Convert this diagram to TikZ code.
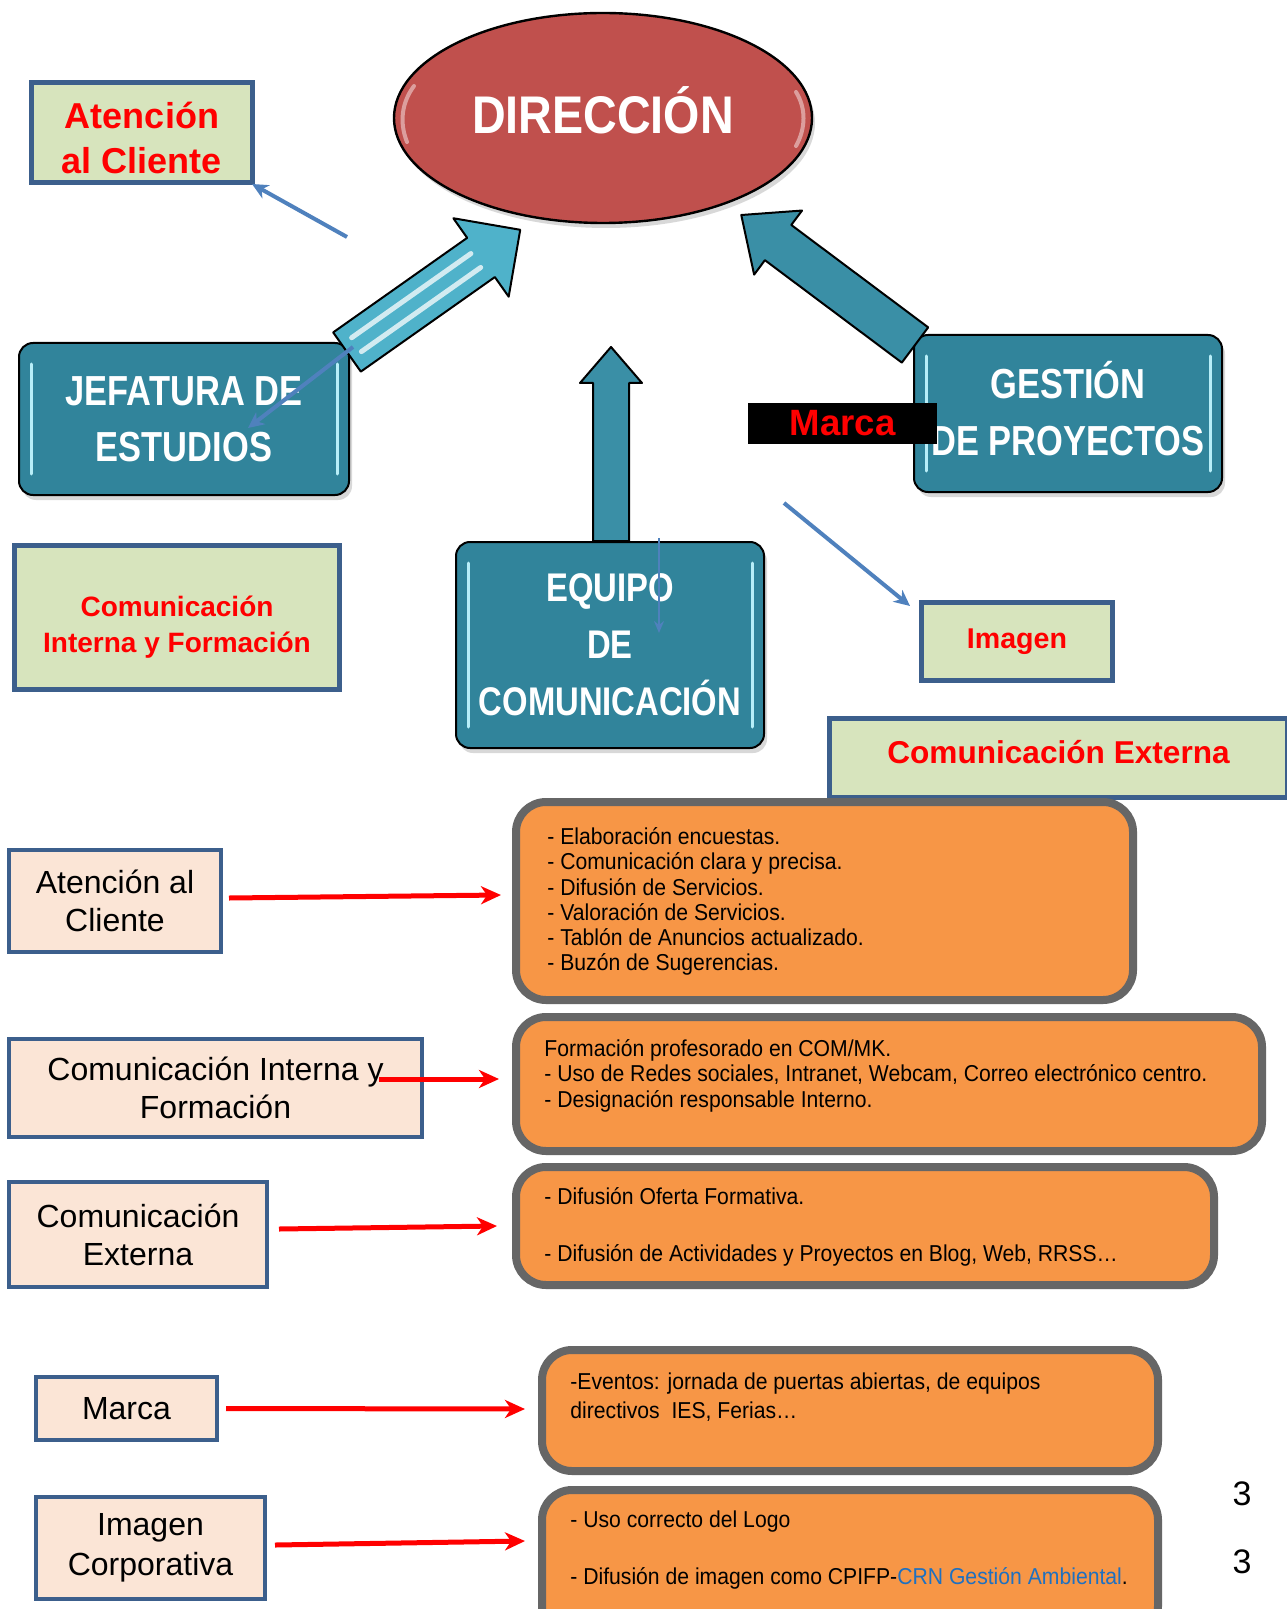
\documentclass[tikz,border=0pt]{standalone}
\usepackage{fontspec}
\setmainfont{Liberation Sans}
\newfontfamily\condf[FakeStretch=0.82]{Liberation Sans}
\newfontfamily\dirf[FakeStretch=0.88]{Liberation Sans}
\newfontfamily\narrf[FakeStretch=0.92]{Liberation Sans}
\usetikzlibrary{shapes.geometric,arrows.meta,calc,shadows}
\definecolor{tealc}{HTML}{31849B}
\definecolor{arrteal}{HTML}{3A8FA6}
\definecolor{arrlight}{HTML}{4FB2CA}
\definecolor{hilite}{HTML}{B8EEF8}
\definecolor{dirred}{HTML}{C0504D}
\definecolor{greenc}{HTML}{D7E4BD}
\definecolor{boxblue}{HTML}{3C5F8C}
\definecolor{peachc}{HTML}{FBE5D6}
\definecolor{orangec}{HTML}{F79646}
\definecolor{grayc}{HTML}{666666}
\definecolor{thinblue}{HTML}{4F81BD}
\definecolor{linkblue}{HTML}{1F70C0}
\newcommand\blkarrow[7]{%
  \begin{scope}[shift={#2}, rotate=#3]
  \draw[#1] (0,-#5) -- ({#4-#7},-#5) -- ({#4-#7},-#6) -- (#4,0) -- ({#4-#7},#6) -- ({#4-#7},#5) -- (0,#5) -- cycle;
  \end{scope}}
\begin{document}
\begin{tikzpicture}[x=0.5pt,y=-0.5pt,
  tealbox/.style={rounded corners=7pt, fill=tealc, draw=black, line width=1pt, text=white,
    align=center, inner sep=0pt,
    drop shadow={shadow xshift=1.5pt, shadow yshift=-2.5pt, opacity=0.3}},
  greenbox/.style={fill=greenc, draw=boxblue, line width=2.5pt, text=red, align=center, inner sep=0pt},
  peachbox/.style={fill=peachc, draw=boxblue, line width=2pt, align=center, inner sep=0pt,
    font=\fontsize{16}{19}\selectfont},
  orangebox/.style={fill=orangec, draw=grayc, line width=4pt, rounded corners=15pt, inner sep=0pt},
  otext/.style={anchor=north west, inner sep=0pt, align=left, font=\narrf\fontsize{11.5}{12.65}\selectfont},
  redarrow/.style={draw=red, line width=2.5pt, -{Stealth[length=10pt,width=9pt,inset=3pt]}},
  bluearrow/.style={draw=thinblue, line width=2pt, -{Stealth[length=8pt,width=7.5pt,inset=2.5pt]}},
  blockarr/.style={fill=arrteal, draw=black, line width=1pt, line join=round},
  hl/.style={draw=hilite, line width=1.5pt, line cap=round},
  pagenum/.style={inner sep=0pt, font=\fontsize{17}{20}\selectfont}]
\useasboundingbox (0,0) rectangle (1286,1609);
\fill[white] (0,0) rectangle (1286,1609);

% ---------- top part ----------
\node[ellipse, fill=dirred, draw=black, line width=1.2pt, minimum width=209pt, minimum height=105pt,
  inner sep=0pt, text=white, font=\dirf\bfseries\fontsize{26.5}{30}\selectfont,
  text height=16pt, text depth=0pt,
  drop shadow={shadow xshift=1.5pt, shadow yshift=-2.5pt, opacity=0.3}] (dir) at (603,118) {DIRECCIÓN};
\draw[white, line width=2pt, opacity=0.45, line cap=round] (407,142) .. controls (399,122) and (402,102) .. (414,86);
\draw[white, line width=2pt, opacity=0.45, line cap=round] (796,92) .. controls (806,108) and (806,128) .. (796,146);

\node[greenbox, minimum width=110.5pt, minimum height=50pt, font=\bfseries\fontsize{18}{22.5}\selectfont]
  (atc) at (142,132.5) {\rule{0pt}{18.5pt}Atención\\al Cliente};

% middle block arrow (behind EQUIPO box)
\blkarrow{blockarr}{(611,541)}{90}{194}{18}{31}{36}

\node[tealbox, minimum width=165pt, minimum height=76pt, font=\condf\bfseries\fontsize{21}{28}\selectfont]
  (jef) at (184,419) {JEFATURA DE\\ESTUDIOS};
\node[tealbox, minimum width=154pt, minimum height=78.5pt, font=\condf\bfseries\fontsize{21}{28.5}\selectfont]
  (ges) at (1068,413.5) {GESTIÓN\\DE PROYECTOS\rule[-5pt]{0pt}{5pt}};
\node[tealbox, minimum width=154pt, minimum height=103pt, font=\condf\bfseries\fontsize{20}{28.5}\selectfont]
  (equ) at (610,645) {EQUIPO\\DE\\COMUNICACIÓN};

% highlights inside teal boxes
\foreach \b in {jef,ges,equ}{
  \draw[hl] ($(\b.north west)+(13,22)$) -- ($(\b.south west)+(13,-22)$);
  \draw[hl] ($(\b.north east)+(-13,22)$) -- ($(\b.south east)+(-13,-22)$);
}

% left block arrow (light, striped)
\blkarrow{blockarr, fill=arrlight}{(347,352)}{35.2}{212}{24}{48}{48}
\begin{scope}[shift={(347,352)}, rotate=35.2]
  \draw[white, line width=2.5pt, opacity=0.75, line cap=round] (12,-9) -- (158,-9);
  \draw[white, line width=2.5pt, opacity=0.75, line cap=round] (12,8) -- (158,8);
\end{scope}
% right block arrow
\blkarrow{blockarr}{(915,345)}{143.2}{217}{22}{40}{46}

\node[fill=black, minimum width=94.5pt, minimum height=20.5pt, inner sep=0pt, text=red,
  font=\bfseries\fontsize{18.3}{20}\selectfont] (mrk) at (842.5,423.5) {Marca};

\node[greenbox, minimum width=162.5pt, minimum height=72pt, font=\bfseries\fontsize{14}{18}\selectfont]
  (cif) at (177,617.5) {\rule{0pt}{19.5pt}Comunicación\\Interna y Formación};
\node[greenbox, minimum width=95.5pt, minimum height=39pt, font=\bfseries\fontsize{14.3}{17}\selectfont]
  (img) at (1017,641.5) {Imagen};
\node[greenbox, minimum width=229pt, minimum height=39.5pt, font=\bfseries\fontsize{15.8}{19}\selectfont]
  (cex) at (1058.5,758) {Comunicación Externa\rule[-6pt]{0pt}{6pt}};

% thin blue arrows
\coordinate (b1s) at (347,237);
\draw[bluearrow] (b1s) -- ($(atc.south east)+(-3,-1)$);
\coordinate (b2s) at ($(jef.north east)+(3,5)$);
\coordinate (b2e) at (248,428);
\draw[bluearrow] (b2s) -- (b2e);
\coordinate (b3s) at (659,538);
\coordinate (b3e) at (659,633);
\draw[draw=thinblue, line width=1pt, -{Stealth[length=6pt,width=5pt,inset=2pt]}] (b3s) -- (b3e);
\coordinate (b4s) at (784,503);
\draw[bluearrow] (b4s) -- ($(img.north west)+(-9,6)$);

% ---------- bottom part ----------
\node[orangebox, minimum width=308.5pt, minimum height=99pt] (o1) at (824.5,901) {};
\node[orangebox, minimum width=373pt, minimum height=67pt] (o2) at (889,1084) {};
\node[orangebox, minimum width=349pt, minimum height=59pt] (o3) at (865,1226) {};
\node[orangebox, minimum width=308pt, minimum height=60.5pt] (o4) at (850,1410.5) {};
\node[orangebox, minimum width=308pt, minimum height=73pt] (o5) at (850,1563) {};

\node[otext] (t1) at (547,824) {\rule{0pt}{10pt}- Elaboración encuestas.\\- Comunicación clara y precisa.\\- Difusión de Servicios.\\- Valoración de Servicios.\\- Tablón de Anuncios actualizado.\\- Buzón de Sugerencias.};
\node[otext] (t2) at (544,1036) {\rule{0pt}{10pt}Formación profesorado en COM/MK.\\- Uso de Redes sociales, Intranet, Webcam, Correo electrónico centro.\\- Designación responsable Interno.};
\node[otext] (t3) at (544,1184) {\rule{0pt}{10pt}- Difusión Oferta Formativa.\\[16pt]- Difusión de Actividades y Proyectos en Blog, Web, RRSS…};
\node[otext, font=\narrf\fontsize{11.5}{14.5}\selectfont] (t4) at (570,1369) {\rule{0pt}{10pt}-Eventos: jornada de puertas abiertas, de equipos\\directivos\ \ IES, Ferias…};
\node[otext] (t5) at (570,1507) {\rule{0pt}{10pt}- Uso correcto del Logo\\[16pt]- Difusión de imagen como CPIFP-\textcolor{linkblue}{CRN Gestión Ambiental}.};

\node[peachbox, minimum width=106pt, minimum height=51pt] (pa1) at (115,901) {Atención al\\Cliente};
\node[peachbox, minimum width=206.5pt, minimum height=49pt] (pa2) at (215.5,1088) {Comunicación Interna y\\Formación};
\node[peachbox, minimum width=129pt, minimum height=52.5pt] (pa3) at (138,1234.5) {Comunicación\\Externa};
\node[peachbox, minimum width=90.5pt, minimum height=31.5pt] (pa4) at (126.5,1408.5) {Marca};
\node[peachbox, minimum width=114.5pt, minimum height=51pt, font=\fontsize{16}{20}\selectfont] (pa5) at (150.5,1548) {Imagen\\Corporativa};

\draw[redarrow] ($(pa1.east)+(6,-3)$) -- ($(o1.west)+(-11,-6)$);
\draw[redarrow] ($(pa2.east)+(-45,-9)$) -- ($(o2.west)+(-13,-5)$);
\draw[redarrow] ($(pa3.east)+(10,-5.5)$) -- ($(o3.west)+(-15,0)$);
\draw[redarrow] ($(pa4.east)+(7,0)$) -- ($(o4.west)+(-13,-1.5)$);
\draw[redarrow] ($(pa5.east)+(8,-3)$) -- ($(o5.west)+(-13,-22)$);

\node[pagenum] (pg1) at (1242,1494) {3};
\node[pagenum] (pg2) at (1242,1562) {3};
\end{tikzpicture}
\end{document}
